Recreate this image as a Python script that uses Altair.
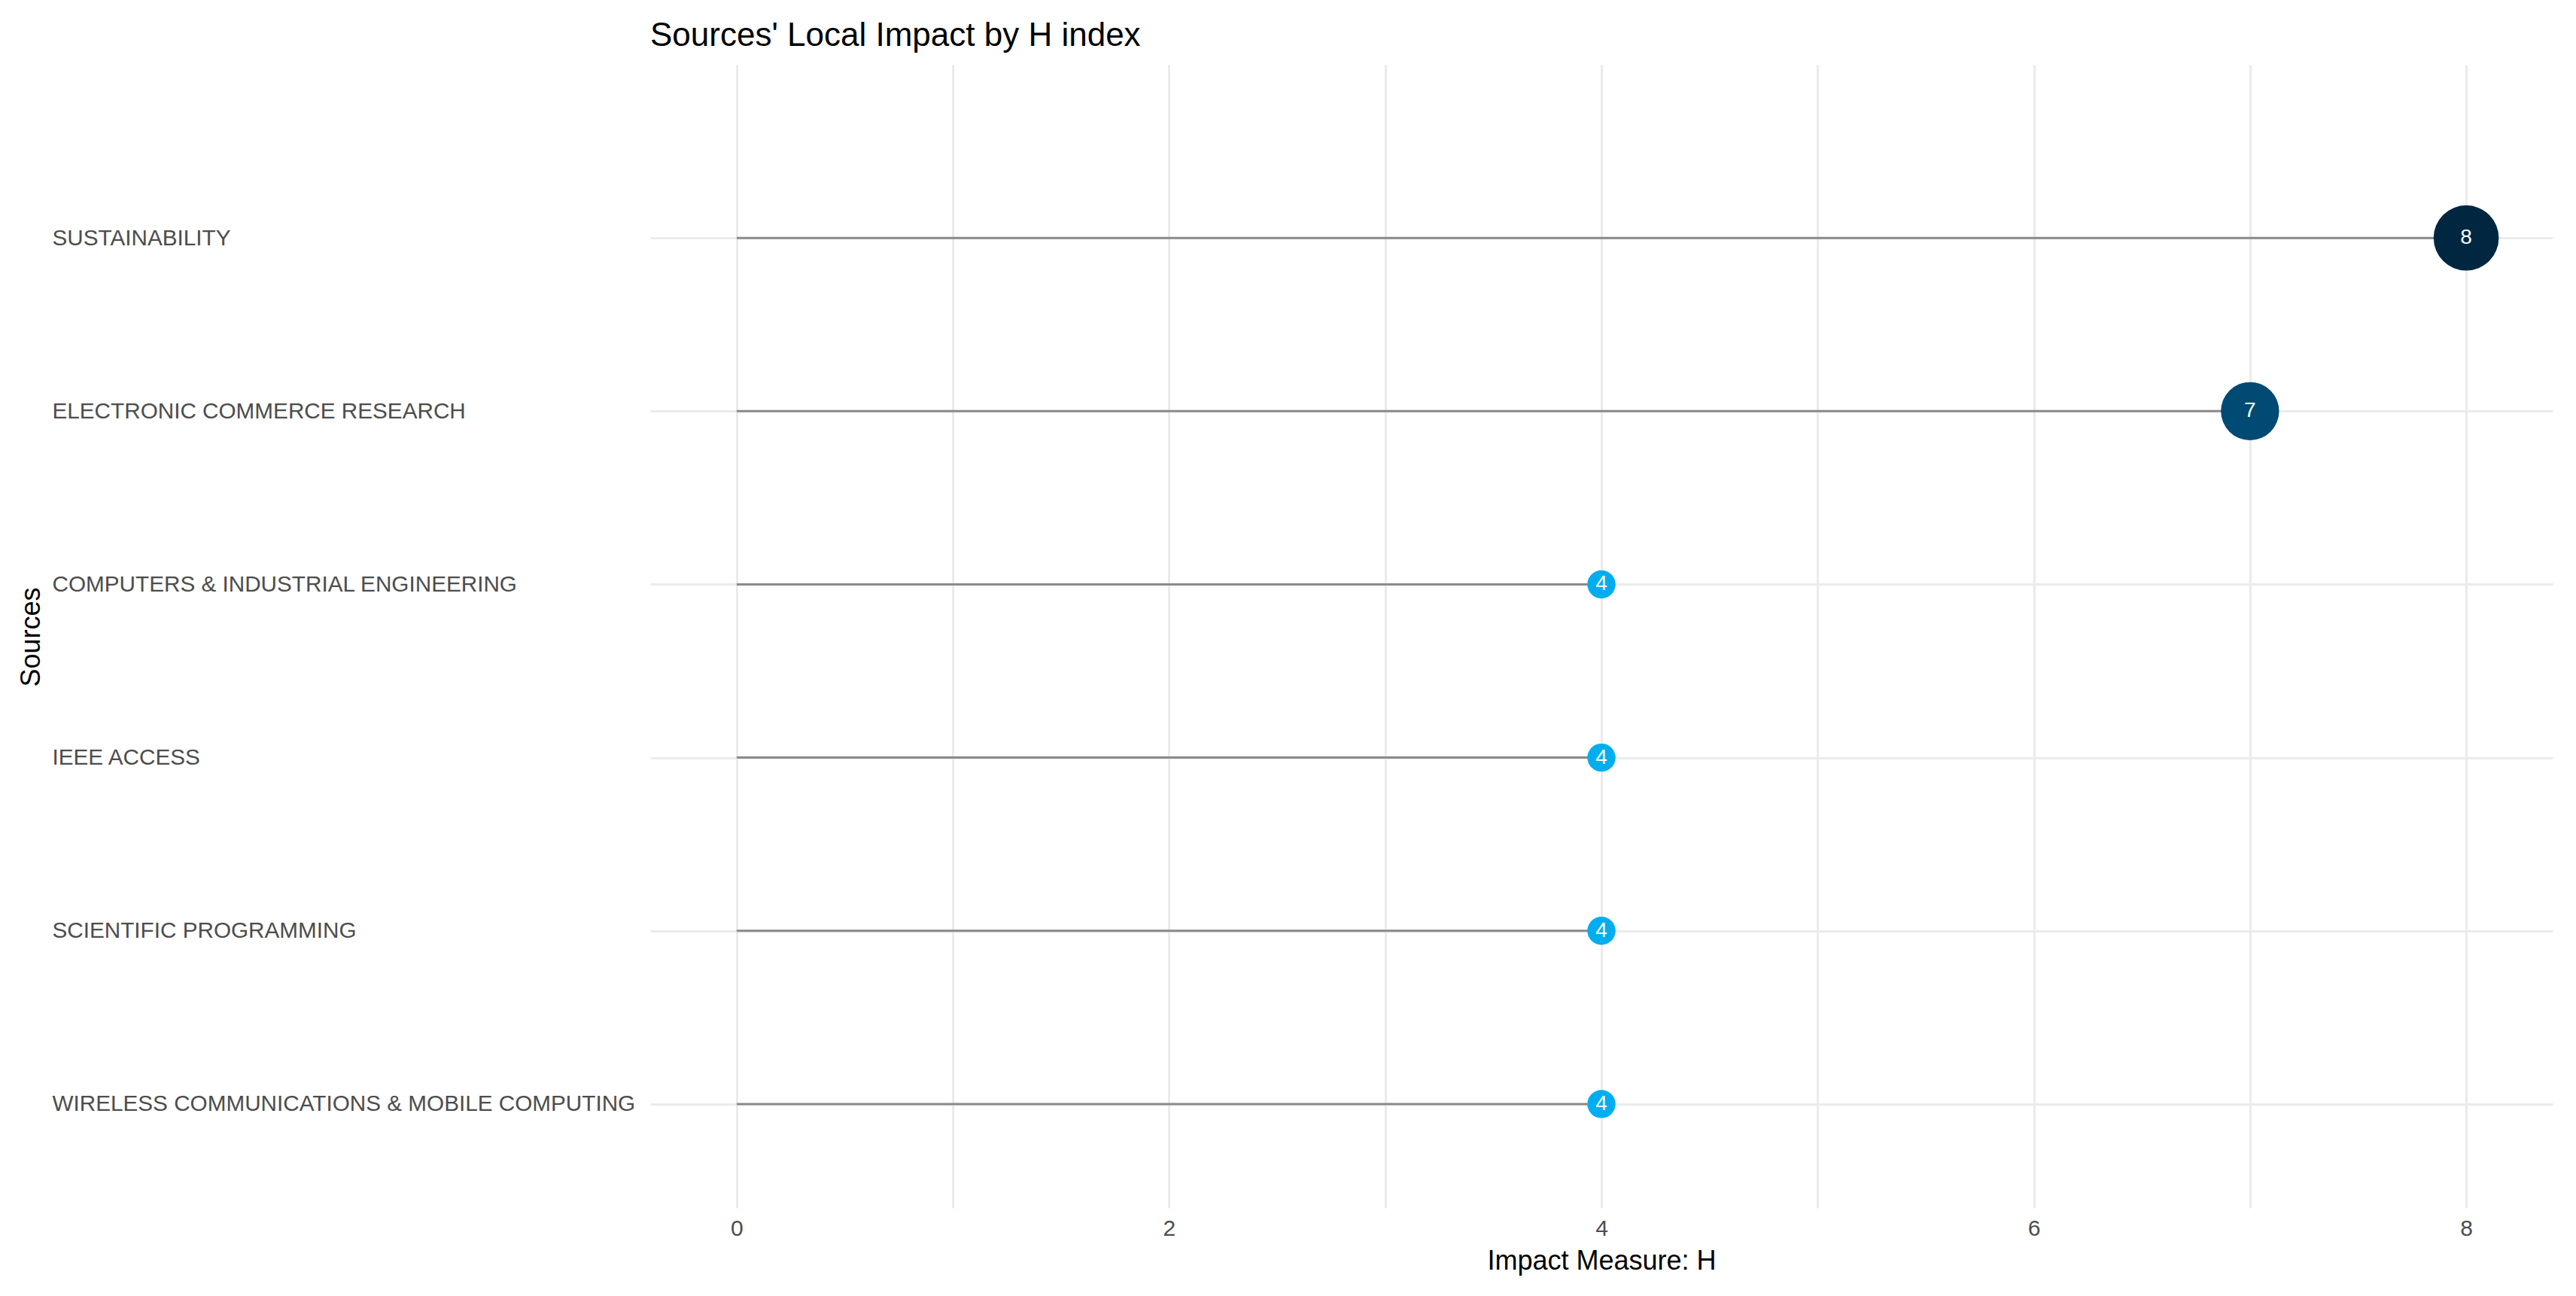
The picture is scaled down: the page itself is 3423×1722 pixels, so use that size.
import altair as alt
import pandas as pd

sources = [
    "SUSTAINABILITY",
    "ELECTRONIC COMMERCE RESEARCH",
    "COMPUTERS & INDUSTRIAL ENGINEERING",
    "IEEE ACCESS",
    "SCIENTIFIC PROGRAMMING",
    "WIRELESS COMMUNICATIONS & MOBILE COMPUTING",
]
h_index = [8, 7, 4, 4, 4, 4]
x_ticks = [0, 1, 2, 3, 4, 5, 6, 7, 8]

ranks = list(range(len(sources)))
df = pd.DataFrame({"source": sources, "rank": ranks, "h": h_index, "zero": [0] * len(sources)})

FONT = "Liberation Sans"

# label expression built from the sources list
label_expr = "[" + ",".join("'" + s.replace("'", "\\'") + "'" for s in sources) + "][datum.value]"

y_scale = alt.Scale(domain=[-1, 5.6], reverse=True, nice=False, zero=False)
y_axis = alt.Axis(
    title="Sources",
    values=ranks,
    labelExpr=label_expr,
    titleAngle=270,
    titleBaseline="alphabetic",
    titleX=-812,
    titleY=760,
    titleFontSize=36,
    titleFontWeight="normal",
    titleColor="#000000",
    titleFont=FONT,
    labelAlign="left",
    labelBaseline="middle",
    labelPadding=795,
    labelLimit=1000,
    labelFontSize=29.7,
    labelColor="#4d4d4d",
    labelFont=FONT,
    ticks=False,
    tickSize=0,
    domain=False,
    grid=True,
    gridColor="#ebebeb",
    gridWidth=3,
)

x_scale = alt.Scale(domain=[-0.4, 8.4], nice=False, zero=False)
x_axis = alt.Axis(
    title="Impact Measure: H",
    values=x_ticks,
    format="d",
    labelExpr="datum.value % 2 == 0 ? datum.label : ''",
    titleBaseline="alphabetic",
    titleY=81,
    titleFontSize=36,
    titleFontWeight="normal",
    titleColor="#000000",
    titleFont=FONT,
    labelFontSize=30,
    labelColor="#4d4d4d",
    labelFont=FONT,
    labelPadding=12,
    ticks=False,
    tickSize=0,
    domain=False,
    grid=True,
    gridColor="#ebebeb",
    gridWidth=3,
)

base = alt.Chart(df)

segments = base.mark_rule(color="#8a8a8a", strokeWidth=3).encode(
    x=alt.X("zero:Q", scale=x_scale, axis=x_axis),
    x2="h:Q",
    y=alt.Y("rank:Q", scale=y_scale, axis=y_axis),
)

points = base.mark_circle(opacity=1).encode(
    x=alt.X("h:Q", scale=x_scale),
    y=alt.Y("rank:Q", scale=y_scale),
    size=alt.Size("h:Q", scale=alt.Scale(domain=[4, 8], range=[1400, 7500]), legend=None),
    color=alt.Color(
        "h:Q",
        scale=alt.Scale(domain=[4, 7, 8], range=["#00aeef", "#004a74", "#002640"]),
        legend=None,
    ),
)

labels = base.mark_text(
    color="white", fontSize=28, font=FONT, align="center", baseline="middle"
).encode(
    x=alt.X("h:Q", scale=x_scale),
    y=alt.Y("rank:Q", scale=y_scale),
    text="h:Q",
)

chart = (
    alt.layer(segments, points, labels)
    .properties(
        width=2528,
        height=1519,
        title=alt.TitleParams(
            "Sources' Local Impact by H index",
            anchor="start",
            frame="group",
            baseline="alphabetic",
            offset=26,
            dy=45,
            fontSize=44,
            fontWeight="normal",
            color="#000000",
            font=FONT,
        ),
        autosize=alt.AutoSizeParams(type="none"),
        padding={"left": 856, "top": 78, "right": 20, "bottom": 100},
        background="white",
    )
    .configure_view(stroke=None)
)

chart.save("out.html", embed_options={"renderer": "svg", "actions": False})
